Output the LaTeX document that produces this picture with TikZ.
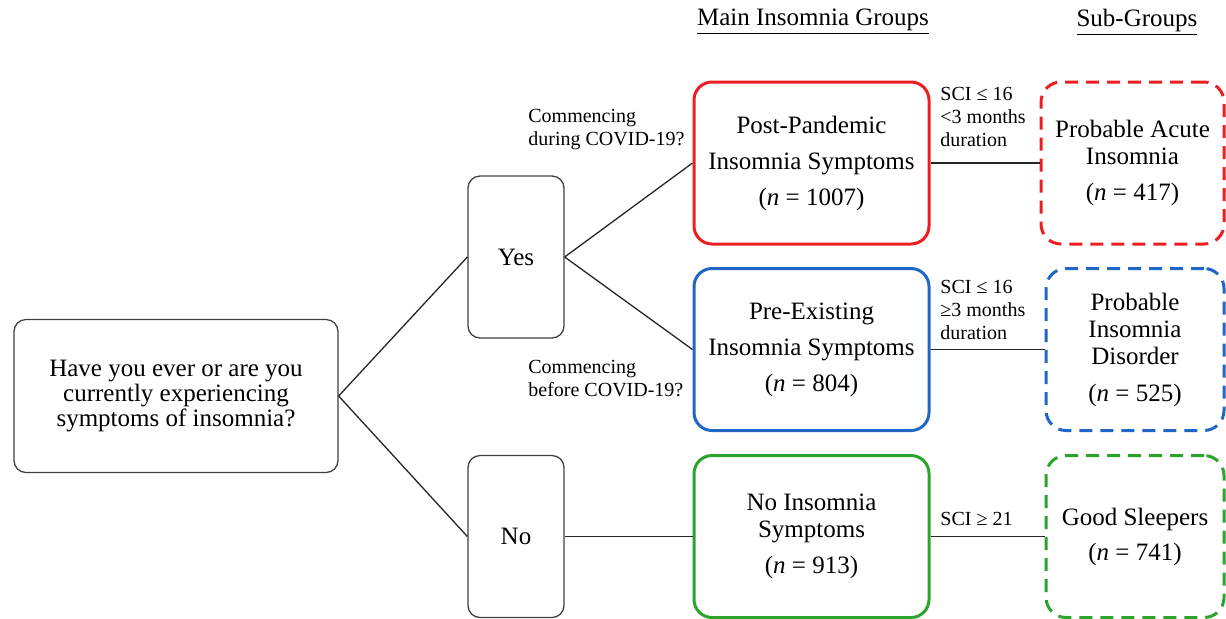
\documentclass[tikz,border=0pt]{standalone}
\usepackage{fontspec}
\setmainfont{Liberation Serif}
\usetikzlibrary{positioning}
\definecolor{pandred}{RGB}{236,30,34}
\definecolor{preblue}{RGB}{32,102,196}
\definecolor{nogreen}{RGB}{42,164,42}

\begin{document}
\begin{tikzpicture}[
  x=0.5pt, y=-0.5pt,
  font=\fontsize{12.5}{13.5}\selectfont,
  box/.style={draw=black!75, rounded corners=6pt, align=center, inner sep=2pt,
              line width=0.65pt},
  choice/.style={box, minimum width=48pt, minimum height=81pt},
  group/.style={box, line width=1.5pt, rounded corners=9pt,
                minimum width=117.5pt, minimum height=81pt},
  subgroup/.style={box, line width=1.5pt, dash pattern=on 6.5pt off 4pt,
                   rounded corners=10pt, minimum width=89pt, minimum height=81pt},
  cond/.style={font=\fontsize{10}{11.5}\selectfont, align=left, anchor=west,
               inner sep=0pt},
  link/.style={draw=black!85, line width=0.65pt}
]
\useasboundingbox (0,0) rectangle (1226,618);
\node (mainhead) at (813,22) {\underline{Main Insomnia Groups}};
\node (subhead) at (1137,22) {\underline{Sub-Groups}};
\node[box, minimum width=162pt, minimum height=76.5pt,
      font=\fontsize{12.5}{12.5}\selectfont] (quest) at (176,396)
  {Have you ever or are you\\currently experiencing\\symptoms of insomnia?};
\node[choice] (yes) at (516,257) {Yes};
\node[choice] (no) at (516,536.5) {No};
\node[group, draw=pandred, font=\fontsize{12.5}{18}\selectfont] (postpan) at (811.5,163)
  {Post-Pandemic\\Insomnia Symptoms\\(\textit{n} = 1007)};
\node[group, draw=preblue, font=\fontsize{12.5}{18}\selectfont] (preex) at (811.5,349.5)
  {Pre-Existing\\Insomnia Symptoms\\(\textit{n} = 804)};
\node[group, draw=nogreen] (noins) at (811.5,536.5)
  {No Insomnia\\Symptoms\\[4.5pt](\textit{n} = 913)};
\node[subgroup, draw=pandred, minimum width=91.5pt] (acute) at (1132.5,163)
  {Probable Acute\\Insomnia\\[4.5pt](\textit{n} = 417)};
\node[subgroup, draw=preblue] (disorder) at (1135,349.5)
  {Probable\\Insomnia\\Disorder\\[5pt](\textit{n} = 525)};
\node[subgroup, draw=nogreen] (goodsl) at (1135,536.5)
  {Good Sleepers\\[4pt](\textit{n} = 741)};
\node[cond] (during) at (528,130) {Commencing\\during COVID-19?};
\node[cond] (before) at (528,379) {Commencing\\before COVID-19?};
\node[cond] (acutecond) at (940,116.5) {SCI ≤ 16\\<3 months\\duration};
\node[cond] (disordcond) at (940,309.5) {SCI ≤ 16\\≥3 months\\duration};
\node[cond] (goodcond) at (940,519) {SCI ≥ 21};
\draw[link] (quest.east) -- (yes.west);
\draw[link] (quest.east) -- (no.west);
\draw[link] (yes.east) -- (postpan.west);
\draw[link] (yes.east) -- (preex.west);
\draw[link] (no) -- (noins);
\draw[link] (postpan) -- (acute);
\draw[link] (preex) -- (disorder);
\draw[link] (noins) -- (goodsl);
\end{tikzpicture}
\end{document}
